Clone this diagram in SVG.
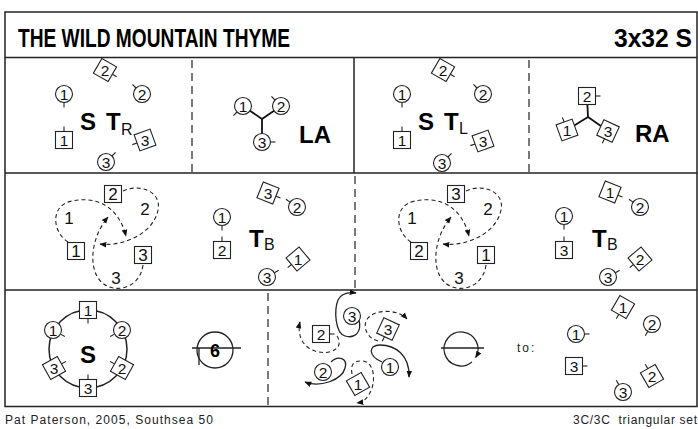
<svg xmlns="http://www.w3.org/2000/svg" width="698" height="429" viewBox="0 0 698 429">
<defs>
<style>
.fr{fill:none;stroke:#222;stroke-width:1.5}
.dv{fill:none;stroke:#333;stroke-width:1.3;stroke-dasharray:8 5}
.sh{fill:#fff;stroke:#222;stroke-width:1.1}
.tk{stroke:#222;stroke-width:1.1}
.n{font-family:"Liberation Sans",Arial,sans-serif;font-size:15.5px;fill:#111;text-anchor:middle}
.b{font-family:"Liberation Sans",Arial,sans-serif;font-weight:bold;font-size:24px;fill:#000}
.sub{font-family:"Liberation Sans",Arial,sans-serif;font-size:16px;fill:#111}
.lb{font-family:"Liberation Sans",Arial,sans-serif;font-size:17px;fill:#111;text-anchor:middle}
.ft{font-family:"Liberation Sans",Arial,sans-serif;font-size:12px;fill:#222}
.dl{fill:none;stroke:#222;stroke-width:1.1;stroke-dasharray:4 3}
.sl{fill:none;stroke:#222;stroke-width:1.3}
.jn{stroke:#111;stroke-width:1.8}
</style>
<marker id="ah" viewBox="0 0 10 10" refX="9" refY="5" markerWidth="7" markerHeight="7" orient="auto" markerUnits="userSpaceOnUse"><path d="M0,1 L10,5 L0,9 z" fill="#111"/></marker>
<circle id="C" r="8.5" class="sh"/>
<rect id="Q" x="-8.5" y="-8.5" width="17" height="17" class="sh"/>
<line id="K" x1="0" y1="8.5" x2="0" y2="13.5" class="tk"/>
</defs>
<rect width="698" height="429" fill="#fff"/>

<g id="frame">
<rect x="5" y="12" width="692" height="394.5" class="fr"/>
<line x1="5" y1="57.5" x2="697" y2="57.5" class="fr"/>
<line x1="5" y1="173" x2="697" y2="173" class="fr"/>
<line x1="5" y1="290" x2="697" y2="290" class="fr"/>
<line x1="354" y1="57.5" x2="354" y2="173" class="fr"/>
<line x1="192" y1="60" x2="192" y2="173" class="dv"/>
<line x1="529" y1="60" x2="529" y2="173" class="dv"/>
<line x1="355" y1="176" x2="355" y2="290" class="dv"/>
<line x1="268" y1="293" x2="268" y2="406" class="dv"/>
</g>

<g id="title">
<text x="18" y="47" class="b" style="font-size:26px" textLength="272" lengthAdjust="spacingAndGlyphs">THE WILD MOUNTAIN THYME</text>
<text x="614" y="47" class="b" style="font-size:26px" textLength="78" lengthAdjust="spacingAndGlyphs">3x32 S</text>
</g>

<!-- Row 1 panel A -->
<g id="p1">
<g transform="translate(64,94)"><use href="#K"/><use href="#C"/><text class="n" y="5.5">1</text></g>
<g transform="translate(105,70)"><g transform="rotate(-60)"><use href="#K"/><use href="#Q"/></g><text class="n" y="5.5">2</text></g>
<g transform="translate(142,94)"><g transform="rotate(135)"><use href="#K"/></g><use href="#C"/><text class="n" y="5.5">2</text></g>
<g transform="translate(64,140)"><g transform="rotate(180)"><use href="#K"/></g><use href="#Q"/><text class="n" y="5.5">1</text></g>
<g transform="translate(145,140)"><g transform="rotate(70)"><use href="#K"/><use href="#Q"/></g><text class="n" y="5.5">3</text></g>
<g transform="translate(106,162)"><g transform="rotate(225)"><use href="#K"/></g><use href="#C"/><text class="n" y="5.5">3</text></g>
<text x="80" y="130" class="b">S</text>
<text x="106" y="130" class="b">T</text>
<text x="121" y="135" class="sub">R</text>
</g>

<!-- Row 1 panel B -->
<g id="p2">
<path d="M262,119 L243,106 M262,119 L281,106 M262,119 L262,142" class="jn"/>
<g transform="translate(243,106)"><g transform="rotate(45)"><use href="#K"/></g><use href="#C"/><text class="n" y="5.5">1</text></g>
<g transform="translate(281,106)"><g transform="rotate(135)"><use href="#K"/></g><use href="#C"/><text class="n" y="5.5">2</text></g>
<g transform="translate(262,142)"><g transform="rotate(-90)"><use href="#K"/></g><use href="#C"/><text class="n" y="5.5">3</text></g>
<text x="299" y="143" class="b">LA</text>
</g>

<!-- Row 1 panel C -->
<g id="p3">
<g transform="translate(402,94)"><use href="#K"/><use href="#C"/><text class="n" y="5.5">1</text></g>
<g transform="translate(443,70)"><g transform="rotate(-60)"><use href="#K"/><use href="#Q"/></g><text class="n" y="5.5">2</text></g>
<g transform="translate(483,94)"><g transform="rotate(135)"><use href="#K"/></g><use href="#C"/><text class="n" y="5.5">2</text></g>
<g transform="translate(402,140)"><g transform="rotate(180)"><use href="#K"/></g><use href="#Q"/><text class="n" y="5.5">1</text></g>
<g transform="translate(483,141)"><g transform="rotate(70)"><use href="#K"/><use href="#Q"/></g><text class="n" y="5.5">3</text></g>
<g transform="translate(442,163)"><g transform="rotate(225)"><use href="#K"/></g><use href="#C"/><text class="n" y="5.5">3</text></g>
<text x="418" y="130" class="b">S</text>
<text x="444" y="130" class="b">T</text>
<text x="459" y="134" class="sub">L</text>
</g>

<!-- Row 1 panel D -->
<g id="p4">
<path d="M588,117 L587,96 M588,117 L567,130 M588,117 L608,131" class="jn"/>
<g transform="translate(587,96)"><g transform="rotate(-90)"><use href="#K"/></g><use href="#Q"/><text class="n" y="5.5">2</text></g>
<g transform="translate(567,130)"><g transform="rotate(160)"><use href="#K"/><use href="#Q"/></g><text class="n" y="5.5">1</text></g>
<g transform="translate(608,131)"><g transform="rotate(25)"><use href="#K"/><use href="#Q"/></g><text class="n" y="5.5">3</text></g>
<text x="635" y="142" class="b">RA</text>
</g>

<!-- Row 2 panel E -->
<g id="p5">
<path d="M68,242 C52,232 50,205 72,201 C95,196 118,205 126,236" class="dl" marker-end="url(#ah)"/>
<path d="M123,191 C140,183 162,192 158,210 C154,232 125,247 100,244" class="dl" marker-end="url(#ah)"/>
<path d="M143,265 C140,290 110,296 98,278 C88,262 93,235 108,217" class="dl" marker-end="url(#ah)"/>
<g transform="translate(113,194)"><use href="#Q"/><text class="lb" y="6">2</text></g>
<g transform="translate(76,251)"><use href="#Q"/><text class="lb" y="6">1</text></g>
<g transform="translate(143,255)"><use href="#Q"/><text class="lb" y="6">3</text></g>
<text x="69" y="224" class="lb">1</text>
<text x="145" y="215" class="lb">2</text>
<text x="116" y="284" class="lb">3</text>
</g>

<!-- Row 2 panel F -->
<g id="p6">
<g transform="translate(268,193)"><g transform="rotate(-68)"><use href="#K"/><use href="#Q"/></g><text class="n" y="5.5">3</text></g>
<g transform="translate(297,207)"><g transform="rotate(125)"><use href="#K"/></g><use href="#C"/><text class="n" y="5.5">2</text></g>
<g transform="translate(222,217)"><use href="#K"/><use href="#C"/><text class="n" y="5.5">1</text></g>
<g transform="translate(222,250)"><g transform="rotate(180)"><use href="#K"/></g><use href="#Q"/><text class="n" y="5.5">2</text></g>
<g transform="translate(298,259)"><g transform="rotate(50)"><use href="#K"/><use href="#Q"/></g><text class="n" y="5.5">1</text></g>
<g transform="translate(267,277)"><g transform="rotate(-120)"><use href="#K"/></g><use href="#C"/><text class="n" y="5.5">3</text></g>
<text x="249" y="247" class="b">T</text>
<text x="264" y="250" class="sub">B</text>
</g>

<!-- Row 2 panel G -->
<g id="p7" transform="translate(343,0)">
<path d="M68,242 C52,232 50,205 72,201 C95,196 118,205 126,236" class="dl" marker-end="url(#ah)"/>
<path d="M123,191 C140,183 162,192 158,210 C154,232 125,247 100,244" class="dl" marker-end="url(#ah)"/>
<path d="M143,265 C140,290 110,296 98,278 C88,262 93,235 108,217" class="dl" marker-end="url(#ah)"/>
<g transform="translate(113,194)"><use href="#Q"/><text class="lb" y="6">3</text></g>
<g transform="translate(76,251)"><use href="#Q"/><text class="lb" y="6">2</text></g>
<g transform="translate(143,255)"><use href="#Q"/><text class="lb" y="6">1</text></g>
<text x="69" y="224" class="lb">1</text>
<text x="145" y="215" class="lb">2</text>
<text x="116" y="284" class="lb">3</text>
</g>

<!-- Row 2 panel H -->
<g id="p8">
<g transform="translate(610,192)"><g transform="rotate(-68)"><use href="#K"/><use href="#Q"/></g><text class="n" y="5.5">1</text></g>
<g transform="translate(640,207)"><g transform="rotate(125)"><use href="#K"/></g><use href="#C"/><text class="n" y="5.5">2</text></g>
<g transform="translate(564,216)"><use href="#K"/><use href="#C"/><text class="n" y="5.5">1</text></g>
<g transform="translate(564,250)"><g transform="rotate(180)"><use href="#K"/></g><use href="#Q"/><text class="n" y="5.5">3</text></g>
<g transform="translate(640,259)"><g transform="rotate(50)"><use href="#K"/><use href="#Q"/></g><text class="n" y="5.5">2</text></g>
<g transform="translate(608,277)"><g transform="rotate(-120)"><use href="#K"/></g><use href="#C"/><text class="n" y="5.5">3</text></g>
<text x="592" y="247" class="b">T</text>
<text x="607" y="250" class="sub">B</text>
</g>

<!-- Row 3 panel I -->
<g id="p9">
<circle cx="88" cy="349" r="39" class="sl" style="stroke-width:1.5"/>
<g transform="translate(88,310)"><use href="#K"/><use href="#Q"/><text class="n" y="5.5">1</text></g>
<g transform="translate(53,330)"><g transform="rotate(-61)"><use href="#K"/></g><use href="#C"/><text class="n" y="5.5">1</text></g>
<g transform="translate(122,330)"><g transform="rotate(61)"><use href="#K"/></g><use href="#C"/><text class="n" y="5.5">2</text></g>
<g transform="translate(54,368)"><g transform="rotate(-119)"><use href="#K"/><use href="#Q"/></g><text class="n" y="5.5">3</text></g>
<g transform="translate(122,368)"><g transform="rotate(119)"><use href="#K"/><use href="#Q"/></g><text class="n" y="5.5">2</text></g>
<g transform="translate(88,388)"><g transform="rotate(180)"><use href="#K"/></g><use href="#Q"/><text class="n" y="5.5">3</text></g>
<text x="88" y="363" class="b" text-anchor="middle">S</text>
<circle cx="215" cy="350" r="18" class="sl"/>
<path d="M192,348 L241,348 M199,348 L199,365" class="sl"/>
<text x="215" y="357" class="b" text-anchor="middle" style="font-size:18px">6</text>
</g>

<!-- Row 3 panel J -->
<g id="p10">
<path d="M359,320 C362,332 355,339 345,336 C335,333 334,310 338,300 C341,294 348,292 356,293" class="sl" marker-end="url(#ah)"/>
<path d="M337,336 C345,348 330,356 315,351 C302,347 297,334 300,322" class="dl" marker-end="url(#ah)"/>
<path d="M378,341 C366,338 362,325 368,318 C376,309 398,309 407,319" class="dl" marker-end="url(#ah)"/>
<path d="M382,362 C368,356 368,345 380,345 C395,345 410,355 409,377" class="sl" marker-end="url(#ah)"/>
<path d="M352,374 C350,363 355,361 362,361 C372,361 376,375 372,388 C369,397 364,402 357,403" class="dl" marker-end="url(#ah)"/>
<path d="M331,362 C338,355 348,358 345,368 C342,380 320,388 305,382" class="sl" marker-end="url(#ah)"/>
<g transform="translate(352,316)"><use href="#C"/><text class="n" y="5.5">3</text></g>
<g transform="translate(321,334)"><g transform="rotate(-90)"><use href="#K"/></g><use href="#Q"/><text class="n" y="5.5">2</text></g>
<g transform="translate(388,329)"><g transform="rotate(25)"><use href="#K"/><use href="#Q"/></g><text class="n" y="5.5">3</text></g>
<g transform="translate(390,367)"><use href="#C"/><text class="n" y="5.5">1</text></g>
<g transform="translate(358,384)"><g transform="rotate(-30)"><use href="#Q"/></g><text class="n" y="5.5">1</text></g>
<g transform="translate(323,372)"><use href="#C"/><text class="n" y="5.5">2</text></g>
<path d="M471.9,362 A17,17 0 1 1 475.7,357.5" class="sl" marker-end="url(#ah)"/>
<line x1="441" y1="348" x2="484" y2="348" class="sl"/>
</g>

<!-- Row 3 panel K -->
<g id="p11">
<text x="517" y="352" class="ft" style="letter-spacing:2px">to:</text>
<g transform="translate(576,334)"><g transform="rotate(-90)"><use href="#K"/></g><use href="#C"/><text class="n" y="5.5">1</text></g>
<g transform="translate(623,307)"><g transform="rotate(30)"><use href="#K"/><use href="#Q"/></g><text class="n" y="5.5">1</text></g>
<g transform="translate(652,324)"><g transform="rotate(30)"><use href="#K"/></g><use href="#C"/><text class="n" y="5.5">2</text></g>
<g transform="translate(574,366)"><g transform="rotate(-90)"><use href="#K"/></g><use href="#Q"/><text class="n" y="5.5">3</text></g>
<g transform="translate(652,376)"><g transform="rotate(150)"><use href="#K"/><use href="#Q"/></g><text class="n" y="5.5">2</text></g>
<g transform="translate(623,392)"><g transform="rotate(150)"><use href="#K"/></g><use href="#C"/><text class="n" y="5.5">3</text></g>
</g>

<g id="footer">
<text x="5" y="424" class="ft" textLength="208">Pat Paterson, 2005, Southsea 50</text>
<text x="573" y="424" class="ft" textLength="124" xml:space="preserve">3C/3C  triangular set</text>
</g>
</svg>
